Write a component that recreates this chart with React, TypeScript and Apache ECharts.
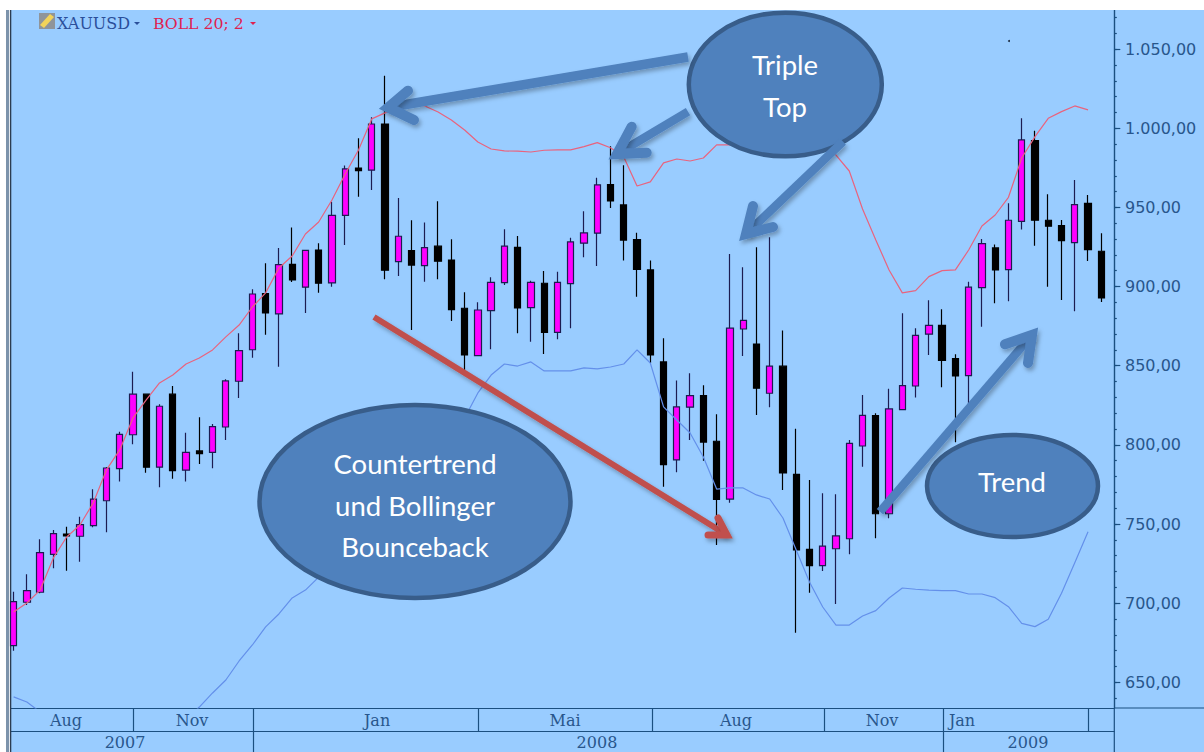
import React, { useEffect, useRef } from "react";
import * as echarts from "echarts";

const opens = [673.2,700.6,706.9,730.9,743.7,742.3,749.0,764.7,785.0,806.4,832.0,785.9,832.0,784.0,796.2,795.3,811.3,840.2,860.1,895.5,882.7,914.0,899.6,923.1,902.3,945.0,974.9,973.5,1002.7,915.7,922.7,913.2,925.5,916.8,886.3,856.4,884.8,902.5,924.8,886.7,902.1,871.1,901.8,927.4,933.7,964.4,951.6,929.6,910.5,852.4,790.5,823.8,831.1,802.3,765.8,873.2,863.7,832.6,849.7,781.4,734.0,723.7,734.4,740.7,799.3,818.5,756.5,822.3,837.2,869.9,875.5,854.5,843.7,899.3,924.4,910.7,941.2,992.2,941.9,938.5,927.7,952.6,922.3];
const closes = [701.0,707.9,731.9,743.9,742.5,749.6,765.8,785.4,806.7,832.0,785.9,824.4,783.7,795.3,794.5,811.5,840.4,859.5,895.3,883.3,913.8,904.2,922.9,902.1,945.0,974.3,973.2,1002.7,910.3,931.8,913.6,924.6,916.0,885.4,856.8,885.2,902.7,925.5,886.5,902.7,871.1,902.7,928.2,933.9,964.2,954.1,929.4,910.9,856.8,787.5,824.0,831.1,801.8,765.6,873.7,878.7,835.8,849.7,782.3,733.6,723.7,736.0,742.5,801.0,818.7,756.5,822.7,837.4,869.2,875.5,853.4,843.5,899.6,927.1,910.5,941.9,992.6,941.9,938.1,929.0,951.7,923.3,892.8];
const lows = [670.0,698.9,706.3,722.0,720.5,726.2,748.0,744.8,776.8,800.4,782.4,773.2,778.6,776.8,788.0,785.2,803.1,829.6,855.1,869.6,849.4,902.9,883.3,896.1,899.9,926.3,956.8,961.0,904.6,906.7,872.6,903.1,904.6,878.3,847.3,856.2,860.4,901.0,870.5,865.2,857.4,866.7,873.6,918.5,913.0,949.7,916.4,893.6,851.5,773.6,782.7,803.1,790.0,736.8,763.5,856.2,818.9,823.8,771.5,681.4,706.6,720.3,699.5,730.9,786.2,741.0,753.6,822.1,830.0,856.8,836.4,801.6,825.2,874.7,889.5,890.7,936.0,925.8,899.9,891.5,884.4,916.2,890.3];
const highs = [707.3,718.3,740.4,746.3,748.3,754.6,772.0,786.0,808.3,846.2,832.2,825.6,837.2,807.7,817.4,813.2,841.4,870.5,898.3,914.7,924.4,937.3,923.1,927.3,953.6,976.5,993.7,1006.9,1033.2,956.0,941.9,940.4,953.9,929.9,896.4,890.1,905.9,936.2,932.0,903.7,909.9,909.4,930.9,947.6,968.8,988.6,976.6,934.0,916.4,867.4,840.6,845.2,837.6,819.3,920.6,912.2,924.8,931.1,872.2,810.2,777.8,769.4,768.8,803.1,831.5,820.0,835.5,883.1,873.7,891.3,885.7,857.2,903.1,930.1,926.5,952.6,1006.3,998.5,958.3,942.0,967.3,957.9,933.7];
const upperBand = [694.4,700.1,708.3,728.6,741.8,749.4,763.3,784.2,796.8,817.0,828.4,839.1,844.1,851.1,854.9,860.0,868.2,875.7,887.1,896.0,911.7,919.3,933.2,940.8,954.7,971.1,986.3,1005.9,1009.7,1012.8,1015.4,1014.1,1010.3,1005.2,998.9,991.3,986.9,985.7,985.5,985.0,986.1,986.3,986.3,988.4,990.9,987.7,981.9,963.5,966.1,978.1,980.6,979.3,981.2,989.5,989.5,992.6,995.8,997.7,998.9,997.7,995.1,989.5,983.1,973.0,949.0,929.4,910.5,896.0,897.4,906.3,910.1,910.5,923.1,938.3,945.2,956.4,981.2,994.7,1006.3,1010.5,1014.1,1011.6];
const lowerBand = [640.8,637.6,631.3,623.0,616.7,610.4,607.3,607.3,608.5,610.4,613.6,616.7,619.9,626.2,634.4,643.3,651.5,663.5,673.6,685.0,693.2,703.3,708.3,716.5,724.1,734.9,744.4,753.8,762.0,771.5,781.0,791.7,800.0,810.7,817.0,832.8,844.1,851.1,849.8,852.4,846.7,846.7,846.7,848.6,848.0,849.2,851.1,860.0,851.7,824.0,815.7,807.5,792.4,772.1,772.8,772.8,768.4,765.8,753.8,733.6,713.4,697.6,686.2,686.2,691.9,695.3,703.3,709.6,708.8,708.3,707.9,707.9,705.8,705.8,703.5,697.8,687.3,685.2,689.8,706.3,725.6,745.2];

const priceTicks = [650,700,750,800,850,900,950,1000,1050];
const priceLabels = ["650,00","700,00","750,00","800,00","850,00","900,00","950,00","1.000,00","1.050,00"];
const minorTicks = [640,650,660,670,680,690,700,710,720,730,740,750,760,770,780,790,800,810,820,830,840,850,860,870,880,890,900,910,920,930,940,950,960,970,980,990,1000,1010,1020,1030,1040,1050,1060,1070];
const monthNames = ["Aug","Nov","Jan","Mai","Aug","Nov","Jan"];
const monthPositions = [3.95,13.45,27.4,41.57,54.46,65.47,71.5];
const monthBreaks = [9.04,18.07,35.01,48.13,61.09,70.09,81.05];
const yearNames = ["2007","2008","2009"];
const yearPositions = [8.4,43.98,76.47];
const yearBreaks = [18.07,70.09];

const BG = "#99CCFF";
const AXIS = "#1B4F80";
const TEXT = "#28568C";
const BLUE = "#4F81BD";
const RED = "#C0504D";
const shadow = { shadowColor: "rgba(0,0,0,0.28)", shadowBlur: 4, shadowOffsetX: 2, shadowOffsetY: 3 };

function arrow(tail: number[], tip: number[], b1: number[], b2: number[], color: string, w: number, hw: number) {
  return {
    type: "group",
    z: 30,
    children: [
      { type: "line", z: 30, shape: { x1: tail[0], y1: tail[1], x2: tip[0], y2: tip[1] }, style: { stroke: color, lineWidth: w, ...shadow } },
      { type: "polyline", z: 30, shape: { points: [b1, tip, b2] }, style: { stroke: color, fill: "none", lineWidth: hw, lineCap: "round", lineJoin: "miter", miterLimit: 4, ...shadow } },
    ],
  };
}

function ellipse(cx: number, cy: number, rx: number, ry: number) {
  return { type: "ellipse", z: 20, shape: { cx, cy, rx, ry }, style: { fill: BLUE, stroke: "#385D8A", lineWidth: 4.5 } };
}

function label(text: string, x: number, y: number) {
  return { type: "text", z: 40, x, y, style: { text, fill: "#FFFFFF", font: '27.5px Lato, "Open Sans", sans-serif', textAlign: "center", textVerticalAlign: "middle" } };
}

export default function App() {
  const ref = useRef<HTMLDivElement>(null);
  useEffect(() => {
    document.body.style.margin = "0";
    const chart = echarts.init(ref.current!, undefined, { renderer: "svg" });
    const rail = (x1: number, y1: number, x2: number, y2: number) => ({ type: "line", z: 5, shape: { x1, y1, x2, y2 }, style: { stroke: AXIS, lineWidth: 1.2 } });
    chart.setOption({
      animation: false,
      backgroundColor: BG,
      grid: { left: 11, right: 89.7, top: 10, bottom: 44, containLabel: false },
      xAxis: [
        {
          type: "value", min: -0.196, max: 82.98, position: "bottom",
          splitLine: { show: false },
          axisLine: { show: true, onZero: false, lineStyle: { color: AXIS, width: 1.2 } },
          axisTick: { show: true, length: 23, customValues: monthBreaks, lineStyle: { color: AXIS, width: 1.2 } },
          axisLabel: {
            show: true, customValues: monthPositions, margin: 4, fontFamily: "DejaVu Serif", fontSize: 16, color: TEXT, verticalAlign: "top",
            formatter: (v: number) => monthNames[monthPositions.indexOf(v)] ?? "",
          },
        },
        {
          type: "value", min: -0.196, max: 82.98, position: "bottom", offset: 23.4,
          splitLine: { show: false },
          axisLine: { show: true, onZero: false, lineStyle: { color: AXIS, width: 1.2 } },
          axisTick: { show: true, length: 21, customValues: yearBreaks, lineStyle: { color: AXIS, width: 1.2 } },
          axisLabel: {
            show: true, customValues: yearPositions, margin: 3, fontFamily: "DejaVu Serif", fontSize: 16, color: TEXT, verticalAlign: "top",
            formatter: (v: number) => yearNames[yearPositions.indexOf(v)] ?? "",
          },
        },
      ],
      yAxis: [
        {
          type: "value", min: 633.8, max: 1074.7, position: "right",
          splitLine: { show: false },
          axisLine: { show: true, onZero: false, lineStyle: { color: AXIS, width: 1.4 } },
          axisTick: { show: true, length: 6, customValues: priceTicks, lineStyle: { color: AXIS, width: 1.2 } },
          axisLabel: {
            show: true, customValues: priceTicks, margin: 10.7, fontFamily: "DejaVu Sans", fontSize: 16, color: TEXT,
            formatter: (v: number) => priceLabels[priceTicks.indexOf(v)] ?? "",
          },
        },
        {
          type: "value", min: 633.8, max: 1074.7, position: "right",
          splitLine: { show: false },
          axisLine: { show: false, onZero: false },
          axisTick: { show: true, length: 2.5, customValues: minorTicks, lineStyle: { color: AXIS, width: 1.2 } },
          axisLabel: { show: false },
        },
      ],
      series: [
        {
          type: "line", name: "BOLL upper", data: upperBand.map((v, i) => [i, v]), showSymbol: false, symbol: "none", z: 3,
          lineStyle: { color: "#E9637E", width: 1.2 }, silent: true,
        },
        {
          type: "line", name: "BOLL lower", data: lowerBand.map((v, i) => [i, v]), showSymbol: false, symbol: "none", z: 3,
          lineStyle: { color: "#6490EA", width: 1.2 }, silent: true,
        },
        {
          type: "candlestick", name: "XAUUSD", barWidth: 6.8, z: 2,
          encode: { x: 0, y: [1, 2, 3, 4] },
          data: opens.map((o, i) => [i, o, closes[i], lows[i], highs[i]]),
          itemStyle: { color: "#FF00FF", color0: "#000000", borderColor: "#1C1C50", borderColor0: "#000000", borderWidth: 1.2 },
        },
      ],
      graphic: [
        { type: "rect", z: 1, shape: { x: 0, y: 0, width: 1204, height: 10 }, style: { fill: "#FFFFFF" } },
        { type: "rect", z: 1, shape: { x: 0, y: 0, width: 6, height: 752 }, style: { fill: "#FFFFFF" } },
        { type: "rect", z: 1, shape: { x: 6, y: 10, width: 3, height: 742 }, style: { fill: "#7C93AB" } },
        { type: "rect", z: 1, shape: { x: 9, y: 10, width: 1, height: 742 }, style: { fill: "#E4E8EC" } },
        { type: "rect", z: 1, shape: { x: 10, y: 10, width: 1.3, height: 742 }, style: { fill: "#2C3C50" } },
        rail(1114.3, 708, 1114.3, 752),
        rail(1114.3, 708, 1204, 708),
        { type: "rect", z: 6, shape: { x: 39, y: 13, width: 16, height: 16 }, style: { fill: "#8F949A" } },
        { type: "polygon", z: 7, shape: { points: [[40, 25], [50, 14], [54, 17], [44, 28]] }, style: { fill: "#F2D35A" } },
        { type: "text", z: 7, x: 57, y: 23, style: { text: "XAUUSD", fill: "#2B4F9A", font: '16px "DejaVu Serif"', textVerticalAlign: "middle" } },
        { type: "polygon", z: 7, shape: { points: [[134, 22], [140, 22], [137, 25]] }, style: { fill: "#2B4F9A" } },
        { type: "text", z: 7, x: 153, y: 23, style: { text: "BOLL 20; 2", fill: "#E0204F", font: '15.7px "DejaVu Serif"', textVerticalAlign: "middle" } },
        { type: "polygon", z: 7, shape: { points: [[250, 22], [256, 22], [253, 25]] }, style: { fill: "#E0204F" } },
        { type: "circle", z: 7, shape: { cx: 1009, cy: 41, r: 1 }, style: { fill: "#1B2B40" } },
        ellipse(785.3, 84.5, 96.5, 71.8),
        ellipse(415, 501.5, 155.5, 96.5),
        ellipse(1012.5, 486, 85.5, 51),
        arrow([688, 57], [388, 107.5], [408, 90.7], [414, 120], BLUE, 9.5, 10),
        arrow([688, 111.7], [617, 154], [631.7, 126.7], [646.7, 152.7], BLUE, 8.5, 10),
        arrow([843, 141.7], [746, 234], [753, 206], [773, 227], BLUE, 8.5, 10),
        arrow([880, 511.7], [1032, 335], [1005, 344.3], [1028, 363], BLUE, 8.5, 10),
        arrow([374, 317], [727, 535], [708, 535], [718, 518], RED, 6, 7),
        label("Triple", 785, 64),
        label("Top", 785, 106),
        label("Countertrend", 415, 463),
        label("und Bollinger", 415, 505),
        label("Bounceback", 415, 546),
        label("Trend", 1012, 481),
      ],
    });
    return () => chart.dispose();
  }, []);
  return <div ref={ref} style={{ position: "fixed", left: 0, top: 0, width: 1204, height: 752 }} />;
}
